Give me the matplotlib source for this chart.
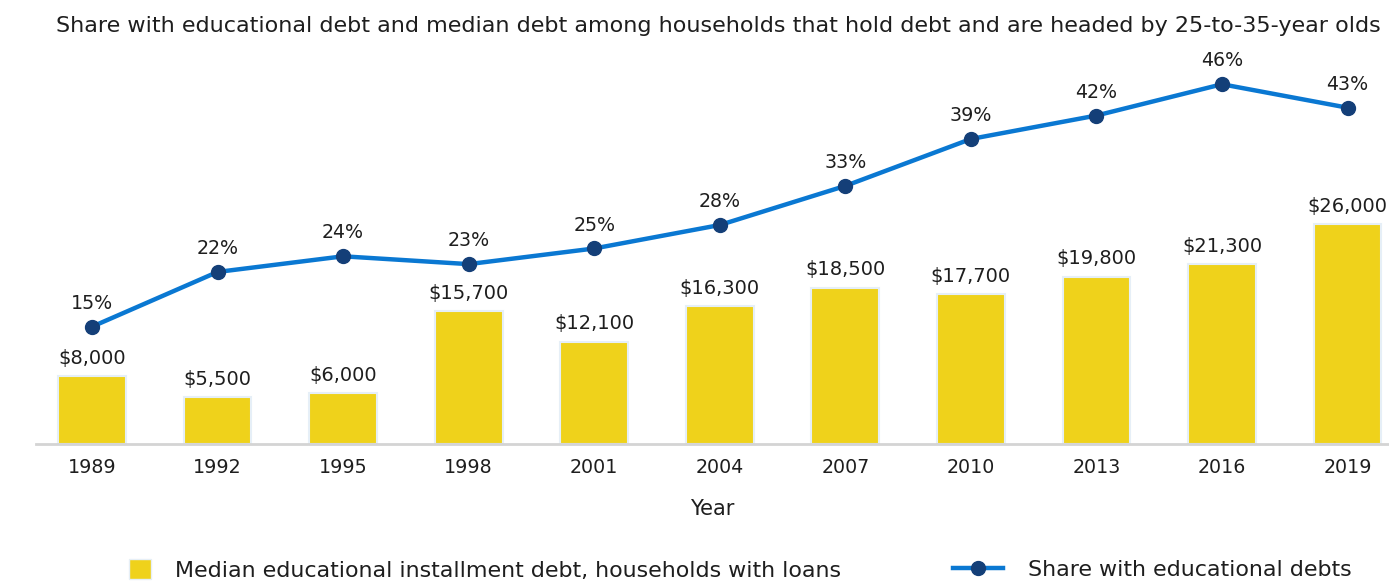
import numpy as np
import matplotlib.pyplot as plt
from matplotlib.lines import Line2D
from matplotlib.patches import Patch

plt.rcParams['font.family'] = ['DejaVu Sans']

years = ["1989", "1992", "1995", "1998", "2001", "2004", "2007", "2010", "2013", "2016", "2019"]
median_debt = [8000, 5500, 6000, 15700, 12100, 16300, 18500, 17700, 19800, 21300, 26000]
share_pct = [15, 22, 24, 23, 25, 28, 33, 39, 42, 46, 43]

bar_color = "#efd21b"
line_color = "#0a78d2"
dot_color = "#143f78"
text_color = "#1e1e1e"

fig = plt.figure(figsize=(13.89, 5.83), dpi=100)
ax = fig.add_axes([36 / 1389, 0.2384, 1 - 36 / 1389, 0.6587])
x = np.arange(len(years))

ax.bar(x, median_debt, width=0.54, color=bar_color, edgecolor="#e6eff7", linewidth=1.5, zorder=2)
for xi, v in zip(x, median_debt):
    ax.annotate("${:,}".format(v), (xi, v), xytext=(0, 6), textcoords="offset points",
                ha="center", va="bottom", fontsize=14, color=text_color)

ax.set_xlim(-0.446, 10.33)
ax.set_ylim(0, 45400)
ax.set_yticks([])
for s in ["top", "right", "left"]:
    ax.spines[s].set_visible(False)
ax.spines["bottom"].set_color("#d4d4d4")
ax.spines["bottom"].set_linewidth(2)
ax.set_xticks(x)
ax.set_xticklabels(years, fontsize=13.7, color=text_color)
ax.tick_params(axis="x", length=0, pad=10)
ax.set_xlabel("Year", fontsize=15, color=text_color, labelpad=16)

ax2 = ax.twinx()
ax2.plot(x, share_pct, color=line_color, linewidth=3.2, marker="o", markersize=10,
         markerfacecolor=dot_color, markeredgecolor=dot_color, zorder=3)
for xi, v in zip(x, share_pct):
    ax2.annotate("{}%".format(v), (xi, v), xytext=(0, 10), textcoords="offset points",
                 ha="center", va="bottom", fontsize=13.7, color=text_color)
ax2.set_ylim(0, 49.1)
ax2.set_yticks([])
for s in ["top", "right", "left", "bottom"]:
    ax2.spines[s].set_visible(False)

fig.text(0.5175, 0.955, "Share with educational debt and median debt among households that hold debt "
         "and are headed by 25-to-35-year olds", ha="center", va="center", fontsize=16, color=text_color)

bar_handle = Patch(facecolor=bar_color, edgecolor="#e6eff7")
line_handle = Line2D([], [], color=line_color, linewidth=3.2, marker="o", markersize=10,
                     markerfacecolor=dot_color, markeredgecolor=dot_color)
leg1 = fig.legend([bar_handle], ["Median educational installment debt, households with loans"],
                  loc="center left", bbox_to_anchor=(0.0785, 0.022), frameon=False, fontsize=15.9,
                  handlelength=1.0, handleheight=1.0, handletextpad=1.1, labelcolor=text_color)
leg2 = fig.legend([line_handle], ["Share with educational debts"],
                  loc="center left", bbox_to_anchor=(0.6715, 0.022), frameon=False, fontsize=15.9,
                  handlelength=2.3, handletextpad=1.1, labelcolor=text_color)

fig.savefig("out.png", dpi=100)
